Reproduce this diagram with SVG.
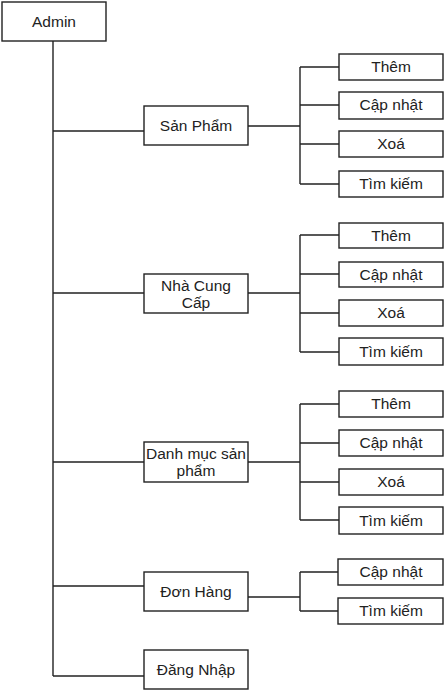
<svg xmlns="http://www.w3.org/2000/svg" width="444" height="691" viewBox="0 0 444 691">
<style>
.b{fill:#fff;stroke:#222;stroke-width:1.4}
.t{font-family:"Liberation Sans",Arial,sans-serif;font-size:15.5px;fill:#222;text-anchor:middle}
.c{fill:none;stroke:#222;stroke-width:1.4}
</style>
<rect width="444" height="691" fill="#fff"/>
<g id="connectors">
<path class="c" d="M53 41V676"/>
<path class="c" d="M53 131H144M248 126H300M300 67V184M300 67H339M300 105H339M300 144H339M300 184H339"/>
<path class="c" d="M53 293H144M248 293H300M300 235V352M300 235H339M300 274H339M300 313H339M300 352H339"/>
<path class="c" d="M53 462H144M248 462H300M300 404V520M300 404H339M300 443H339M300 482H339M300 520H339"/>
<path class="c" d="M53 586H144M248 597H300M300 572V611M300 572H338M300 611H338"/>
<path class="c" d="M53 676H144"/>
</g>
<g id="admin"><rect class="b" x="2" y="2" width="104" height="39"/><text class="t" x="54" y="27">Admin</text></g>
<g id="san-pham"><rect class="b" x="144" y="106" width="104" height="39"/><text class="t" x="196" y="131">Sản Phẩm</text></g>
<g id="sp-them"><rect class="b" x="339" y="54" width="104" height="26"/><text class="t" x="391" y="72">Thêm</text></g>
<g id="sp-capnhat"><rect class="b" x="339" y="92" width="104" height="27"/><text class="t" x="391" y="110">Cập nhật</text></g>
<g id="sp-xoa"><rect class="b" x="339" y="131" width="104" height="26"/><text class="t" x="391" y="149">Xoá</text></g>
<g id="sp-timkiem"><rect class="b" x="339" y="171" width="104" height="26"/><text class="t" x="391" y="189">Tìm kiếm</text></g>
<g id="nha-cung-cap"><rect class="b" x="144" y="274" width="104" height="39"/><text class="t" x="196" y="291">Nhà Cung</text><text class="t" x="196" y="308">Cấp</text></g>
<g id="ncc-them"><rect class="b" x="339" y="223" width="104" height="25"/><text class="t" x="391" y="241">Thêm</text></g>
<g id="ncc-capnhat"><rect class="b" x="339" y="262" width="104" height="25"/><text class="t" x="391" y="280">Cập nhật</text></g>
<g id="ncc-xoa"><rect class="b" x="339" y="300" width="104" height="26"/><text class="t" x="391" y="318">Xoá</text></g>
<g id="ncc-timkiem"><rect class="b" x="339" y="338" width="104" height="27"/><text class="t" x="391" y="357">Tìm kiếm</text></g>
<g id="danh-muc"><rect class="b" x="144" y="442" width="104" height="40"/><text class="t" x="196" y="459">Danh mục sản</text><text class="t" x="196" y="476">phẩm</text></g>
<g id="dm-them"><rect class="b" x="339" y="391" width="104" height="26"/><text class="t" x="391" y="409">Thêm</text></g>
<g id="dm-capnhat"><rect class="b" x="339" y="430" width="104" height="26"/><text class="t" x="391" y="448">Cập nhật</text></g>
<g id="dm-xoa"><rect class="b" x="339" y="469" width="104" height="26"/><text class="t" x="391" y="487">Xoá</text></g>
<g id="dm-timkiem"><rect class="b" x="339" y="507" width="104" height="27"/><text class="t" x="391" y="526">Tìm kiếm</text></g>
<g id="don-hang"><rect class="b" x="144" y="572" width="104" height="39"/><text class="t" x="196" y="597">Đơn Hàng</text></g>
<g id="dh-capnhat"><rect class="b" x="338" y="559" width="105" height="26"/><text class="t" x="391" y="577">Cập nhật</text></g>
<g id="dh-timkiem"><rect class="b" x="338" y="598" width="105" height="26"/><text class="t" x="391" y="616">Tìm kiếm</text></g>
<g id="dang-nhap"><rect class="b" x="144" y="650" width="104" height="39"/><text class="t" x="196" y="675">Đăng Nhập</text></g>
</svg>
